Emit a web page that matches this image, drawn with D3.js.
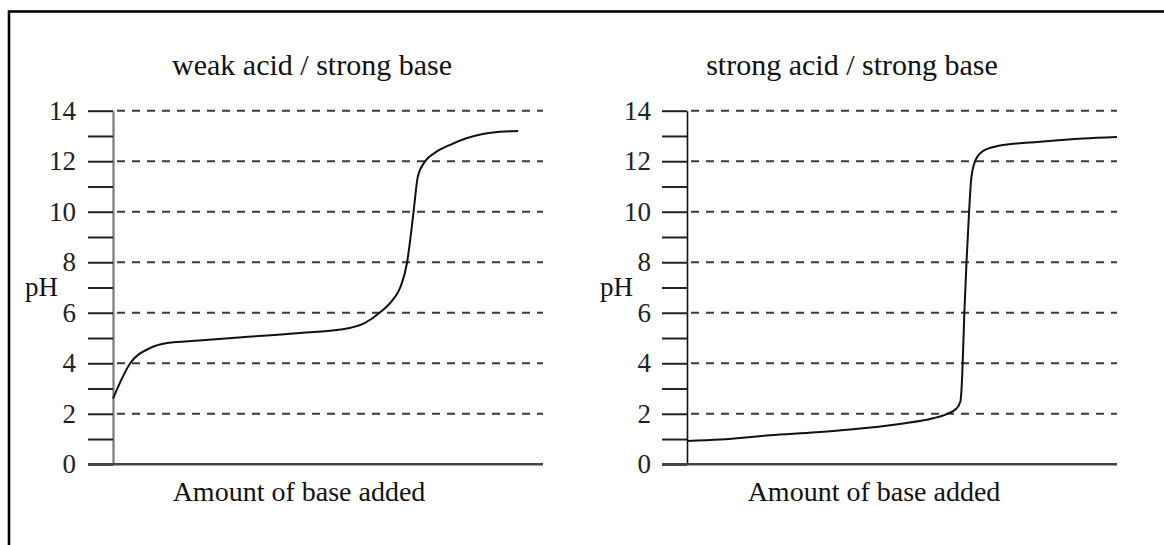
<!DOCTYPE html>
<html>
<head>
<meta charset="utf-8">
<script src="https://cdn.jsdelivr.net/npm/d3@7"></script>
<style>
  html, body { margin: 0; padding: 0; background: #fff; }
  svg { display: block; }
</style>
</head>
<body>
<svg id="chart" width="1164" height="545"></svg>
<script>
// ---- data ----
const chartTitles = ["weak acid / strong base", "strong acid / strong base"];
const xAxisLabel = "Amount of base added";
const yAxisLabel = "pH";
const yTickValues = [0,1,2,3,4,5,6,7,8,9,10,11,12,13,14];
const yLabelValues = [0,2,4,6,8,10,12,14];
const gridValues = [2,4,6,8,10,12,14];

// weak acid / strong base titration (amount of base, pH)
const weakAmount = [0, 4, 8.6, 12.6, 20, 30, 43.5, 55, 58.6, 62, 65, 66.8, 68.4, 69.2, 69.9, 70.9, 72.6, 75, 78.4, 82, 86, 90, 94.2];
const weakPH     = [2.6, 4.0, 4.6, 4.8, 4.9, 5.03, 5.2, 5.4, 5.6, 6.0, 6.5, 7.0, 8.0, 9.0, 10.0, 11.4, 12.0, 12.35, 12.65, 12.9, 13.08, 13.17, 13.2];

// strong acid / strong base titration (amount of base, pH)
const strongAmount = [0, 7.7, 19.3, 30, 38, 49.5, 57.2, 60.5, 62.6, 63.6, 64.0, 64.5, 65.0, 65.6, 66.1, 67.0, 68.8, 72.8, 78, 84.4, 92.1, 100];
const strongPH     = [0.92, 0.98, 1.15, 1.27, 1.38, 1.6, 1.82, 2.0, 2.2, 2.5, 3.5, 6.0, 8.0, 10.0, 11.3, 12.0, 12.4, 12.62, 12.72, 12.8, 12.9, 12.96];

// ---- drawing ----
const FONT = "'Liberation Serif', 'Times New Roman', 'DejaVu Serif', serif";
const svg = d3.select("#chart");

// outer frame (right/bottom edges fall outside the picture)
svg.append("rect")
  .attr("x", 9).attr("y", 11.5)
  .attr("width", 1200).attr("height", 600)
  .attr("fill", "none").attr("stroke", "#000").attr("stroke-width", 2.6);

const y = d3.scaleLinear().domain([0, 14]).range([464.3, 110.7]);
const tickLen = 25;

const panels = [
  { title: chartTitles[0], amount: weakAmount, ph: weakPH, x0: 113, x1: 543,
    titleX: 312, axisColor: "#7a7a7a", axisWidth: 2.2, pHx: 58, labelPad: 12, xlabX: 299 },
  { title: chartTitles[1], amount: strongAmount, ph: strongPH, x0: 687, x1: 1117,
    titleX: 852, axisColor: "#111", axisWidth: 1.6, pHx: 633, labelPad: 11, xlabX: 874 }
];

panels.forEach(p => {
  const x = d3.scaleLinear().domain([0, 100]).range([p.x0, p.x1]);
  const g = svg.append("g");

  // dashed grid lines
  g.selectAll("line.grid").data(gridValues).join("line")
    .attr("class", "grid")
    .attr("x1", x(0) + 4).attr("x2", x(100))
    .attr("y1", d => y(d)).attr("y2", d => y(d))
    .attr("stroke", "#3a3a3a").attr("stroke-width", 2)
    .attr("stroke-dasharray", "8,7");

  // y axis
  const yAxis = d3.axisLeft(y)
    .tickValues(yTickValues)
    .tickSize(tickLen)
    .tickSizeOuter(0)
    .tickPadding(p.labelPad)
    .tickFormat(d => yLabelValues.includes(d) ? d : "");
  const ag = g.append("g").attr("transform", `translate(${x(0)},0)`).call(yAxis);
  ag.select(".domain").attr("stroke", p.axisColor).attr("stroke-width", p.axisWidth);
  ag.selectAll(".tick line").attr("stroke", "#222").attr("stroke-width", 2);
  ag.selectAll(".tick text")
    .style("font-family", FONT)
    .style("font-size", "27px")
    .attr("fill", "#222");

  // x axis line (base line at pH 0)
  g.append("line")
    .attr("x1", x(0) - tickLen).attr("x2", x(100))
    .attr("y1", y(0)).attr("y2", y(0))
    .attr("stroke", "#444").attr("stroke-width", 2.6);

  // curve
  const pts = p.amount.map((a, i) => [a, p.ph[i]]);
  g.append("path")
    .datum(pts)
    .attr("fill", "none")
    .attr("stroke", "#111")
    .attr("stroke-width", 2)
    .attr("d", d3.line().x(d => x(d[0])).y(d => y(d[1])).curve(d3.curveMonotoneX));

  // title
  g.append("text")
    .attr("x", p.titleX).attr("y", 75)
    .attr("text-anchor", "middle")
    .style("font-family", FONT).style("font-size", "30px")
    .attr("fill", "#111")
    .text(p.title);

  // x label
  g.append("text")
    .attr("x", p.xlabX).attr("y", 501)
    .attr("text-anchor", "middle")
    .style("font-family", FONT).style("font-size", "28px")
    .attr("fill", "#111")
    .text(xAxisLabel);

  // pH label
  g.append("text")
    .attr("x", p.pHx).attr("y", 296)
    .attr("text-anchor", "end")
    .style("font-family", FONT).style("font-size", "27px")
    .attr("fill", "#111")
    .text(yAxisLabel);
});
</script>
</body>
</html>
